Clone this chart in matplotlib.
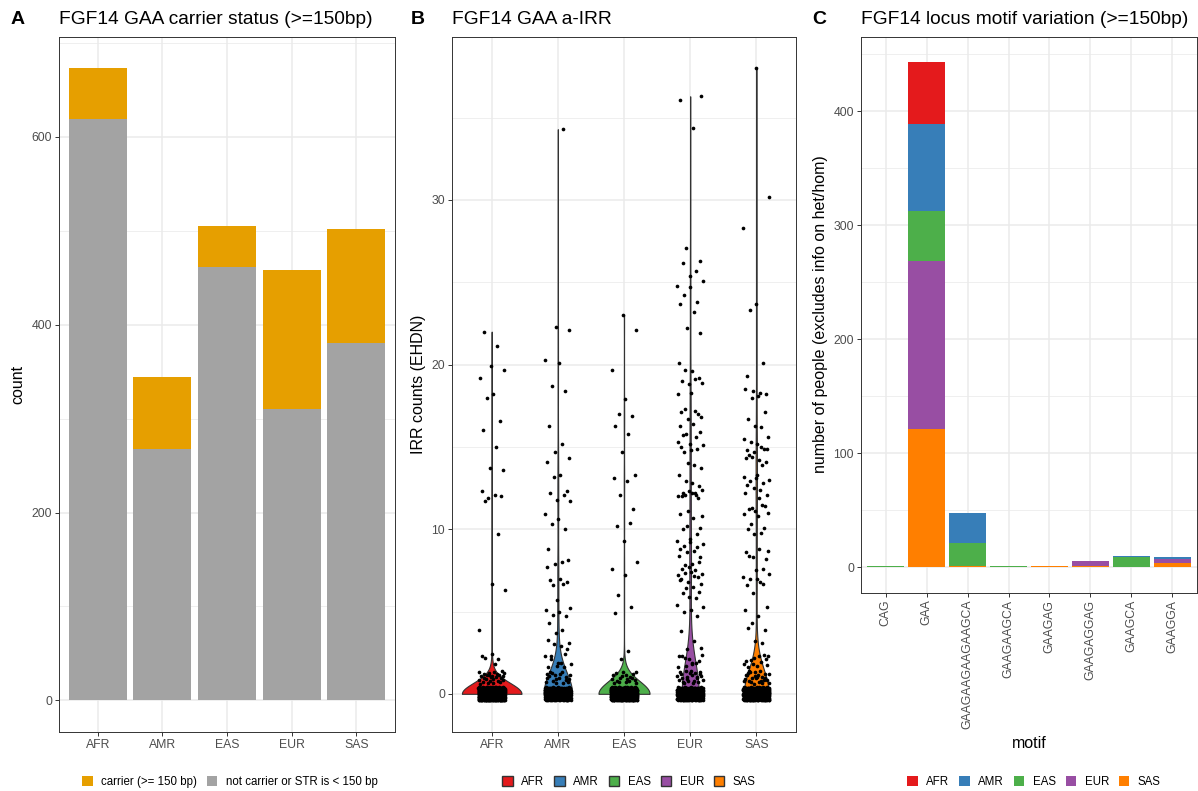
import numpy as np
import matplotlib
matplotlib.use("Agg")
import matplotlib.pyplot as plt
import matplotlib.ticker as ticker
from matplotlib.patches import Patch

plt.rcParams['font.family'] = ['Liberation Sans', 'DejaVu Sans']

W, H = 1198, 791

# populations
pops = ["AFR", "AMR", "EAS", "EUR", "SAS"]
pop_colors = ["#E41A1C", "#377EB8", "#4DAF4A", "#984EA3", "#FF7F00"]

# panel A: carrier status counts
carrier_n = [54, 76, 44, 148, 121]
noncarrier_n = [619, 268, 461, 310, 381]

# panel B: IRR counts (EHDN), zeros given as a count, the rest listed
# (the 1s and 2s are the crowded low counts, the others were read off as drawn)
irr_zero_n = [619, 268, 461, 310, 381]
irr_afr = [22.0, 21.1, 19.9, 19.7, 19.2, 18.2, 18.0, 16.6, 16.0, 15.0, 13.7, 13.6,
           12.3, 12.1, 11.9, 12.0, 11.7, 9.7, 6.7, 6.3, 3.9, 2.4, 2.2, 2.1, 2.3, 1.8] + [1] * 28
irr_amr = [34.3, 22.3, 22.1, 20.3, 20.1, 18.7, 18.4, 16.3, 15.2, 14.7, 14.3, 14.1,
           13.3, 13.2, 12.3, 12.2, 12.1, 11.8, 11.7, 10.9, 10.6, 10.3, 10.0, 8.8,
           8.0, 7.9, 8.1, 7.7, 7.0, 6.6, 6.8, 6.9, 6.7, 5.7, 5.2, 5.1, 5.0, 4.8,
           4.7, 4.3, 3.9, 3.7, 3.1, 3.3, 2.9, 3.0, 2.7, 2.3, 1.6, 1.7, 1.8] + [2] * 6 + [1] * 19
irr_eas = [23.0, 22.1, 19.7, 17.9, 17.0, 16.9, 16.3, 15.8, 14.7, 13.3, 13.1, 12.9,
           12.1, 11.2, 10.2, 10.4, 9.3, 8.0, 7.6, 7.2, 6.0, 5.3, 4.9, 2.6, 2.1] + [1] * 19
irr_eur = [36.3, 36.1, 34.4, 27.1, 26.3, 26.2, 25.7, 25.4, 25.1, 24.8, 24.7, 24.2,
           23.8, 23.7, 23.2, 22.2, 21.9, 20.1, 19.6, 19.7, 19.2, 19.0, 19.1,
           18.8, 18.9, 18.2, 18.3, 17.3, 17.0, 17.1, 17.2, 16.7, 16.8, 16.3, 16.4,
           15.8, 15.9, 15.7, 15.6, 15.2, 15.1, 15.3, 14.8, 14.7, 14.9, 15.0,
           13.9, 14.0, 13.7, 13.3, 12.8, 12.9, 12.6, 12.2, 12.1, 12.3, 12.4, 12.0,
           12.2, 12.1, 11.9, 12.0, 12.2, 11.1, 10.8, 10.9, 10.7, 10.2, 10.1, 10.0,
           9.7, 9.2, 9.1, 9.3, 9.4, 9.0, 8.9, 8.8, 8.7, 8.6, 8.3, 8.4, 7.9, 7.8, 8.0,
           7.6, 7.5, 7.7, 7.3, 7.2, 7.4, 7.35, 7.1, 7.0, 7.15, 6.8, 6.7, 6.9, 6.5, 6.4,
           6.2, 6.1, 5.8, 5.9, 5.3, 5.4, 5.1, 5.0, 4.7, 3.8, 3.2, 2.7, 2.8, 2.3,
           1.8, 1.7] + [2] * 8 + [1] * 24
irr_sas = [38.0, 30.2, 28.3, 23.7, 23.3, 20.1, 19.3,
           18.3, 18.4, 18.2, 18.5, 18.1, 18.0, 17.1, 16.7, 16.2, 16.3, 15.6, 15.5,
           15.2, 15.3, 14.9, 14.8, 15.0, 14.7, 14.9, 14.3, 14.2, 14.4, 14.1, 14.5,
           13.9, 13.1, 13.0, 13.2, 13.3, 12.9, 12.8, 12.7, 12.4, 12.5, 12.1, 12.2,
           11.9, 11.3, 11.4, 11.2, 11.5, 11.1, 11.0, 10.9, 10.8, 10.3, 10.1, 10.0,
           9.8, 9.7, 8.7, 8.6, 8.8, 8.3, 8.2, 8.4, 7.6, 7.5, 7.3, 7.1, 7.0, 6.95,
           6.7, 6.6, 6.8, 6.1, 5.3, 5.1, 4.7, 4.3, 3.9, 4.0, 3.1, 3.2, 2.3,
           1.8, 1.7] + [2] * 10 + [1] * 27
irr_nonzero = [irr_afr, irr_amr, irr_eas, irr_eur, irr_sas]

# panel C: motif counts per population
motifs = ["CAG", "GAA", "GAAGAAGAAGAAGCA", "GAAGAAGCA", "GAAGAG", "GAAGAGGAG", "GAAGCA", "GAAGGA"]
motif_afr = [0, 54, 0, 0, 0, 0, 0, 0]
motif_amr = [0, 77, 27, 0, 0, 0, 1, 2]
motif_eas = [1, 43, 20, 1, 0, 0, 9, 0]
motif_eur = [0, 148, 0, 0, 0, 5, 0, 3]
motif_sas = [0, 121, 1, 0, 1, 1, 0, 4]
motif_by_pop = [motif_afr, motif_amr, motif_eas, motif_eur, motif_sas]

carrier_col = "#E69F00"
noncarrier_col = "#A3A3A3"
tick_col = "#4D4D4D"
line_col = "#333333"
grid_col = "#EBEBEB"


def fx(x):
    return x / W


def fy(y):
    return 1 - y / H


def style(ax):
    for sp in ax.spines.values():
        sp.set_color(line_col)
        sp.set_linewidth(0.7)
    ax.tick_params(which='major', length=3, width=0.7, color=line_col,
                   labelcolor=tick_col, labelsize=8.8, pad=2)
    ax.tick_params(which='minor', length=0)
    ax.grid(which='major', color=grid_col, lw=1.1)
    ax.grid(which='minor', axis='y', color=grid_col, lw=0.55)
    ax.set_axisbelow(True)


def kde(vals):
    # gaussian kernel, bandwidth from the spread of the values, trimmed to the data range
    n = len(vals)
    bw = 0.9 * vals.std(ddof=1) * n ** -0.2
    grid = np.linspace(vals.min(), vals.max(), 512)
    z = (grid[:, None] - vals[None, :]) / bw
    dens = np.exp(-0.5 * z ** 2).sum(axis=1) / (n * bw * np.sqrt(2 * np.pi))
    return grid, dens


def halton(n, base):
    # evenly spread numbers in [0, 1) used as jitter offsets for the dots
    out = np.zeros(n)
    for i in range(n):
        f, r, k = 1.0, 0.0, i + 1
        while k > 0:
            f /= base
            r += f * (k % base)
            k //= base
        out[i] = r
    return out


fig = plt.figure(figsize=(W / 100, H / 100), dpi=100)

axA = fig.add_axes([fx(59), fy(732), fx(395 - 59), (732 - 36.7) / H])
axB = fig.add_axes([fx(452), fy(732), fx(796 - 452), (732 - 36.7) / H])
axC = fig.add_axes([fx(861), fy(592.7), fx(1197 - 861), (592.7 - 36.7) / H])

# ---- panel A
xa = np.arange(len(pops))
axA.bar(xa, noncarrier_n, width=0.9, color=noncarrier_col, zorder=2)
axA.bar(xa, carrier_n, width=0.9, bottom=noncarrier_n, color=carrier_col, zorder=2)
topA = max(np.array(carrier_n) + np.array(noncarrier_n))
axA.set_ylim(-0.05 * topA, 1.05 * topA)
axA.set_xlim(-0.6, len(pops) - 0.4)
axA.set_xticks(xa)
axA.set_xticklabels(pops)
axA.yaxis.set_major_locator(ticker.MultipleLocator(200))
axA.yaxis.set_minor_locator(ticker.MultipleLocator(100))
style(axA)

# ---- panel B
allvals = []
for i in range(len(pops)):
    v = np.array([0.0] * irr_zero_n[i] + list(irr_nonzero[i]))
    allvals.append(v)
kdes = [kde(v) for v in allvals]
dmax = max(d.max() for g, d in kdes)
for i, (g, d) in enumerate(kdes):
    hw = 0.45 * d / dmax
    axB.fill_betweenx(g, i - hw, i + hw, facecolor=pop_colors[i],
                      edgecolor=line_col, lw=0.8, zorder=2)
ys_all = []
for i, v in enumerate(allvals):
    n = len(v)
    xj = i + (halton(n, 2) - 0.5) * 0.4
    low = (v == np.round(v)) & (v <= 2)
    yj = v + np.where(low, (halton(n, 3) - 0.5) * 0.8, 0.0)
    axB.scatter(xj, yj, s=7, color='black', lw=0, zorder=3)
    ys_all.append(yj)
lowB = min(y.min() for y in ys_all)
highB = max(y.max() for y in ys_all)
rB = highB - lowB
axB.set_ylim(lowB - 0.05 * rB, highB + 0.05 * rB)
axB.set_xlim(-0.6, len(pops) - 0.4)
axB.set_xticks(xa)
axB.set_xticklabels(pops)
axB.yaxis.set_major_locator(ticker.MultipleLocator(10))
axB.yaxis.set_minor_locator(ticker.MultipleLocator(5))
style(axB)

# ---- panel C (stacked, SAS at bottom, AFR on top)
xc = np.arange(len(motifs))
bottom = np.zeros(len(motifs))
for i in reversed(range(len(pops))):
    vals = np.array(motif_by_pop[i], dtype=float)
    axC.bar(xc, vals, width=0.9, bottom=bottom, color=pop_colors[i], zorder=2)
    bottom += vals
topC = bottom.max()
axC.set_ylim(-0.05 * topC, 1.05 * topC)
axC.set_xlim(-0.6, len(motifs) - 0.4)
axC.set_xticks(xc)
axC.set_xticklabels(motifs, rotation=90, ha='center', va='top')
axC.yaxis.set_major_locator(ticker.MultipleLocator(100))
axC.yaxis.set_minor_locator(ticker.MultipleLocator(50))
style(axC)

# ---- titles, panel letters, axis labels
for x, letter in [(11, "A"), (411, "B"), (812, "C")]:
    fig.text(fx(x), fy(19), letter, fontsize=14, fontweight='bold', va='center', ha='left')
fig.text(fx(59), fy(19), "FGF14 GAA carrier status (>=150bp)", fontsize=13.8, va='center')
fig.text(fx(452), fy(19), "FGF14 GAA a-IRR", fontsize=13.8, va='center')
fig.text(fx(861), fy(19), "FGF14 locus motif variation (>=150bp)", fontsize=13.8, va='center')

fig.text(fx(18), fy(384), "count", fontsize=11.5, rotation=90, va='center', ha='center')
fig.text(fx(418), fy(384), "IRR counts (EHDN)", fontsize=11.5, rotation=90, va='center', ha='center')
fig.text(fx(820), fy(314), "number of people (excludes info on het/hom)", fontsize=11.5,
         rotation=90, va='center', ha='center')
fig.text(fx(1029), fy(743), "motif", fontsize=11.5, va='center', ha='center')

# ---- legends
leg_kw = dict(loc='center', frameon=False, fontsize=8.3, handlelength=0.9, handleheight=0.9,
              handletextpad=0.75, columnspacing=0.85, borderaxespad=0)
legA = [Patch(facecolor=carrier_col, edgecolor='none', label="carrier (>= 150 bp)"),
        Patch(facecolor=noncarrier_col, edgecolor='none', label="not carrier or STR is < 150 bp")]
fig.legend(handles=legA, bbox_to_anchor=(fx(230), fy(782)), ncol=2, **leg_kw)
legB = [Patch(facecolor=c, edgecolor=line_col, lw=1, label=p) for p, c in zip(pops, pop_colors)]
fig.legend(handles=legB, bbox_to_anchor=(fx(629), fy(782)), ncol=5, **leg_kw)
legC = [Patch(facecolor=c, edgecolor='none', label=p) for p, c in zip(pops, pop_colors)]
fig.legend(handles=legC, bbox_to_anchor=(fx(1034), fy(782)), ncol=5, **leg_kw)

fig.savefig("out.png", dpi=100)
